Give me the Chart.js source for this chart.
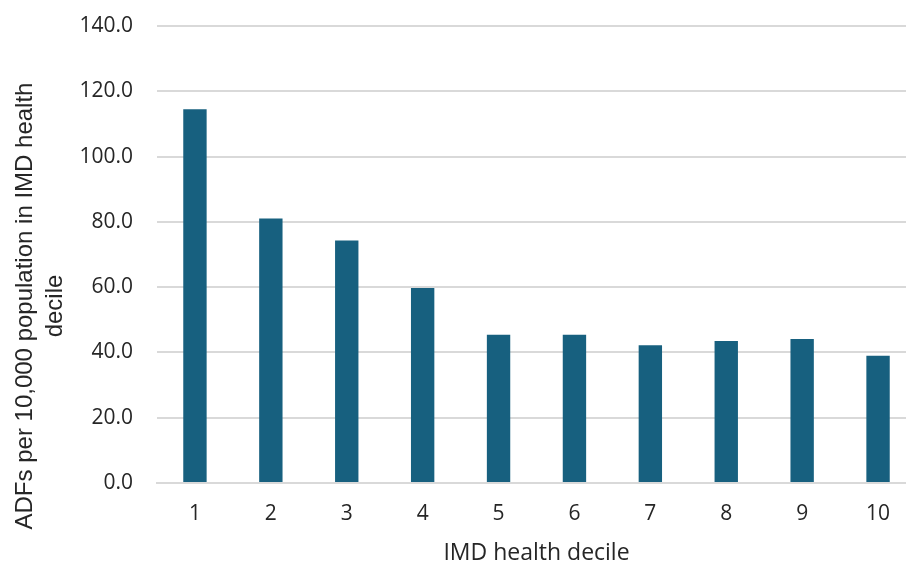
<!DOCTYPE html>
<html>
<head>
<meta charset="utf-8">
<script src="https://cdn.jsdelivr.net/npm/chart.js@4.4.1/dist/chart.umd.min.js"></script>
<style>
  html, body { margin: 0; padding: 0; background: #fff; overflow: hidden; }
  #wrap { width: 916px; height: 565px; }
</style>
</head>
<body>
<div id="wrap"><canvas id="chart" width="916" height="565"></canvas></div>
<script>
// data
const deciles = ['1', '2', '3', '4', '5', '6', '7', '8', '9', '10'];
const adfRates = [114.5, 81.0, 74.3, 59.7, 45.4, 45.4, 42.2, 43.5, 44.1, 39.0];
const yTitleLines = ['ADFs per 10,000 population in IMD health', 'decile'];
const xTitle = 'IMD health decile';

const textColor = '#262626';
const gridColor = '#d9d9d9';

// y axis title, drawn rotated in the left margin (centred a bit lower than the plot, like the original)
const yTitlePlugin = {
    id: 'yTitle',
    afterDraw(chart) {
        const ctx = chart.ctx;
        ctx.save();
        ctx.fillStyle = textColor;
        ctx.font = '24px "Liberation Sans", Arial, sans-serif';
        ctx.textAlign = 'center';
        ctx.textBaseline = 'middle';
        yTitleLines.forEach((line, i) => {
            ctx.save();
            ctx.translate(25 + i * 30, 306);
            ctx.rotate(-Math.PI / 2);
            ctx.fillText(line, 0, 0);
            ctx.restore();
        });
        ctx.restore();
    }
};

const ctx = document.getElementById('chart').getContext('2d');
const adfChart = new Chart(ctx, {
    type: 'bar',
    data: {
        labels: deciles,
        datasets: [{
            data: adfRates,
            backgroundColor: '#17607f',
            borderWidth: 0,
            categoryPercentage: 1.0,
            barPercentage: 0.308
        }]
    },
    options: {
        responsive: false,
        animation: false,
        layout: { padding: { top: 26, left: 0, right: 0, bottom: 0 } },
        plugins: {
            legend: { display: false },
            tooltip: { enabled: false }
        },
        scales: {
            x: {
                grid: { display: false, drawTicks: false },
                border: { color: gridColor, width: 2 },
                ticks: {
                    color: textColor,
                    font: { family: '"Open Sans", sans-serif', size: 21 },
                    padding: 18
                },
                title: {
                    display: true,
                    text: xTitle,
                    color: textColor,
                    font: { family: '"Open Sans", sans-serif', size: 23, lineHeight: 1 },
                    padding: { top: 0, bottom: 0 }
                },
                afterFit(scale) { scale.height = 82; }
            },
            y: {
                min: 0,
                max: 140,
                grid: { color: gridColor, lineWidth: 2, drawTicks: false },
                border: { display: false },
                ticks: {
                    stepSize: 20,
                    color: textColor,
                    font: { family: '"Open Sans", sans-serif', size: 21 },
                    padding: 24,
                    callback: (v) => v.toFixed(1)
                },
                afterFit(scale) {
                    scale.width = 157;
                    scale.paddingTop = 0;
                    scale.paddingBottom = 0;
                }
            }
        }
    },
    plugins: [yTitlePlugin]
});
</script>
</body>
</html>
